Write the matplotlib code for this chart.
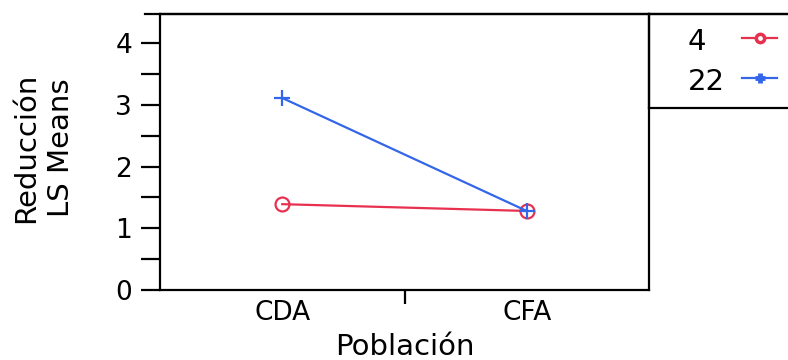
import matplotlib
matplotlib.use("Agg")
import matplotlib.pyplot as plt
from matplotlib.lines import Line2D

poblacion = ["CDA", "CFA"]
grupos = ["4", "22"]
medias_4 = [1.39, 1.28]
medias_22 = [3.11, 1.28]

rojo = "#e8304f"
azul = "#3366e8"

plt.rcParams['font.family'] = ['DejaVu Sans']

fig = plt.figure(figsize=(7.88, 3.60), dpi=100)
W, H = 788, 360
ax = fig.add_axes([160 / W, (H - 290) / H, (649 - 160) / W, (290 - 14) / H])

x = list(range(len(poblacion)))
ax.plot(x, medias_4, color=rojo, lw=1.6, marker='o', ms=10,
        mfc='none', mew=1.6)
ax.plot(x, medias_22, color=azul, lw=1.6, marker='+', ms=11, mew=1.6)

ax.set_xlim(-0.5, 1.5)
ax.set_ylim(0, 4.47)
ax.set_yticks([0, 1, 2, 3, 4])
ax.set_yticks([0.5, 1.5, 2.5, 3.5], minor=True)
ax.set_xticks(x)
ax.set_xticklabels(poblacion)
ax.set_xticks([0.5], minor=True)
ax.tick_params(axis='x', which='major', length=0, labelsize=19, pad=7)
ax.tick_params(axis='x', which='minor', length=10, width=1.6, direction='out')
ax.tick_params(axis='y', which='both', length=14, width=1.6, direction='out', labelsize=19, pad=6)
for s in ax.spines.values():
    s.set_linewidth(1.6)

ax.set_xlabel("Población", fontsize=21)
ax.xaxis.set_label_coords(0.5, -0.155)
ax.set_ylabel("Reducción\nLS Means", fontsize=21, linespacing=1.3)
ax.yaxis.set_label_coords(-0.174, 0.515)

# linea superior que se extiende
fig.add_artist(Line2D([145 / W, 1], [(H - 14) / H] * 2, color='black', lw=1.6,
                      transform=fig.transFigure))

# caja de leyenda (coordenadas en pixeles)
lax = fig.add_axes([649 / W, (H - 108) / H, 0.3, (108 - 14) / H])
lax.set_xlim(649, 649 + 0.3 * W)
lax.set_ylim(108, 14)
lax.set_xticks([])
lax.set_yticks([])
lax.spines['right'].set_visible(False)
for s in lax.spines.values():
    s.set_linewidth(1.6)
lax.patch.set_alpha(0)

estilos = [(rojo, 'o', 6, 'white', 2.5), (azul, '+', 7, azul, 3.5)]
filas = [38, 78]
for g, fy, (c, m, ms, mfc, mew) in zip(grupos, filas, estilos):
    lax.text(688, fy + 4, g, fontsize=21, ha='left', va='center')
    lax.plot([742, 777], [fy, fy], color=c, lw=1.6)
    lax.plot([759.5], [fy], color=c, marker=m, ms=ms, mfc=mfc, mew=mew)

fig.savefig("out.png", dpi=100)
